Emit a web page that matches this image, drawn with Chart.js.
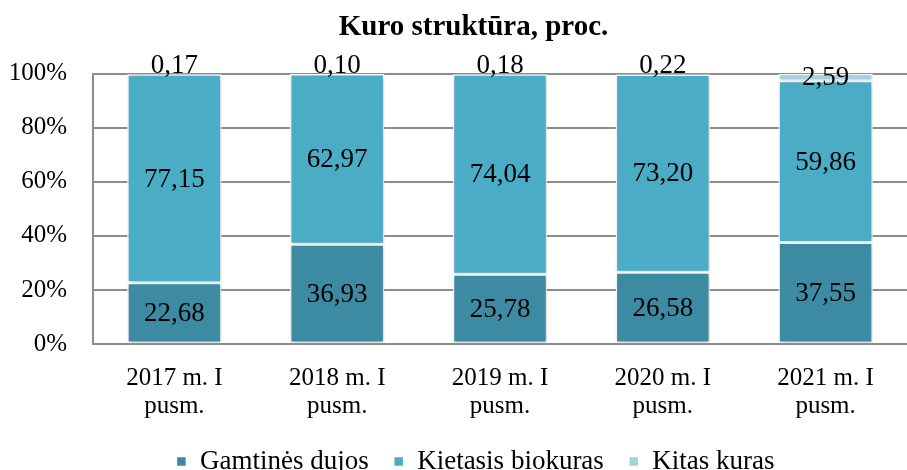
<!DOCTYPE html>
<html><head><meta charset="utf-8">
<script src="https://cdn.jsdelivr.net/npm/chart.js@4"></script>
<style>html,body{margin:0;padding:0;background:#fff}#wrap{width:907px;height:470px}</style>
</head><body><div id="wrap"><canvas id="c" width="907" height="470"></canvas></div>
<script>
const categories = [["2017 m. I","pusm."],["2018 m. I","pusm."],["2019 m. I","pusm."],["2020 m. I","pusm."],["2021 m. I","pusm."]];
const gamtinesDujos = [22.68, 36.93, 25.78, 26.58, 37.55];
const kietasisBiokuras = [77.15, 62.97, 74.04, 73.20, 59.86];
const kitasKuras = [0.17, 0.10, 0.18, 0.22, 2.59];
const seriesNames = ["Gamtinės dujos", "Kietasis biokuras", "Kitas kuras"];
const seriesColors = ["#3D8BA2", "#4BACC6", "#A6D2DF"];

const FONT = "'Liberation Serif', 'Times New Roman', serif";
Chart.defaults.font.family = FONT;

const shiftPlugin = {
  id: 'shiftBlocks',
  afterLayout(chart) {
    if (chart.titleBlock) { chart.titleBlock.left += 40; }
    if (chart.legend) { chart.legend.left += 44; chart.legend.top -= 5; chart.legend.bottom -= 5; }
  }
};

const shadowPlugin = {
  id: 'barShadow',
  beforeDatasetDraw(chart) {
    const ctx = chart.ctx;
    ctx.save();
    ctx.shadowColor = 'rgba(0,0,0,0.22)';
    ctx.shadowBlur = 5;
    ctx.shadowOffsetX = 1;
    ctx.shadowOffsetY = 1;
  },
  afterDatasetDraw(chart) {
    chart.ctx.restore();
  }
};

const labelPlugin = {
  id: 'valLabels',
  afterDatasetsDraw(chart) {
    const ctx = chart.ctx;
    ctx.save();
    ctx.font = "27px " + FONT;
    ctx.fillStyle = "#000";
    ctx.textAlign = "center";
    ctx.textBaseline = "middle";
    chart.data.datasets.forEach((ds, di) => {
      const meta = chart.getDatasetMeta(di);
      meta.data.forEach((el, i) => {
        const v = ds.data[i];
        let y = (el.y + el.base) / 2;
        if (di === 2 && v < 1) y = el.y - 9;
        ctx.fillText(v.toFixed(2).replace('.', ','), el.x, y + 1);
      });
    });
    ctx.restore();
  }
};

new Chart(document.getElementById('c'), {
  type: 'bar',
  data: {
    labels: categories,
    datasets: seriesNames.map((n, k) => ({
      label: n,
      data: [gamtinesDujos, kietasisBiokuras, kitasKuras][k],
      backgroundColor: seriesColors[k],
      borderColor: '#ffffff',
      borderWidth: 1.5,
      borderSkipped: false,
      categoryPercentage: 0.58,
      barPercentage: 1.0
    }))
  },
  options: {
    responsive: false,
    animation: false,
    devicePixelRatio: 1,
    layout: { padding: { left: 0, right: 0, top: 0, bottom: -20 } },
    plugins: {
      title: {
        display: true,
        text: 'Kuro struktūra, proc.',
        color: '#000',
        font: { family: FONT, size: 29, weight: 'bold' },
        padding: { top: 10, bottom: 29 }
      },
      legend: {
        position: 'bottom',
        labels: {
          color: '#000',
          font: { family: FONT, size: 27 },
          boxWidth: 10, boxHeight: 10,
          padding: 25
        }
      },
      tooltip: { enabled: false }
    },
    scales: {
      x: {
        stacked: true,
        grid: { display: false, drawTicks: false },
        border: { display: true, color: '#8c8c8c', width: 2 },
        ticks: { color: '#000', font: { family: FONT, size: 25, lineHeight: 1.12 }, padding: 20, maxRotation: 0 },
        afterFit(s) { s.height = 84; }
      },
      y: {
        stacked: true,
        min: 0, max: 100,
        ticks: { stepSize: 20, color: '#000', font: { family: FONT, size: 25 }, padding: 26, callback: v => v + '%' },
        grid: { color: '#8c8c8c', lineWidth: 2, drawTicks: false },
        border: { display: true, color: '#8c8c8c', width: 2 },
        afterFit(s) { s.width = 93; }
      }
    }
  },
  plugins: [shiftPlugin, shadowPlugin, labelPlugin]
});
</script></body></html>
